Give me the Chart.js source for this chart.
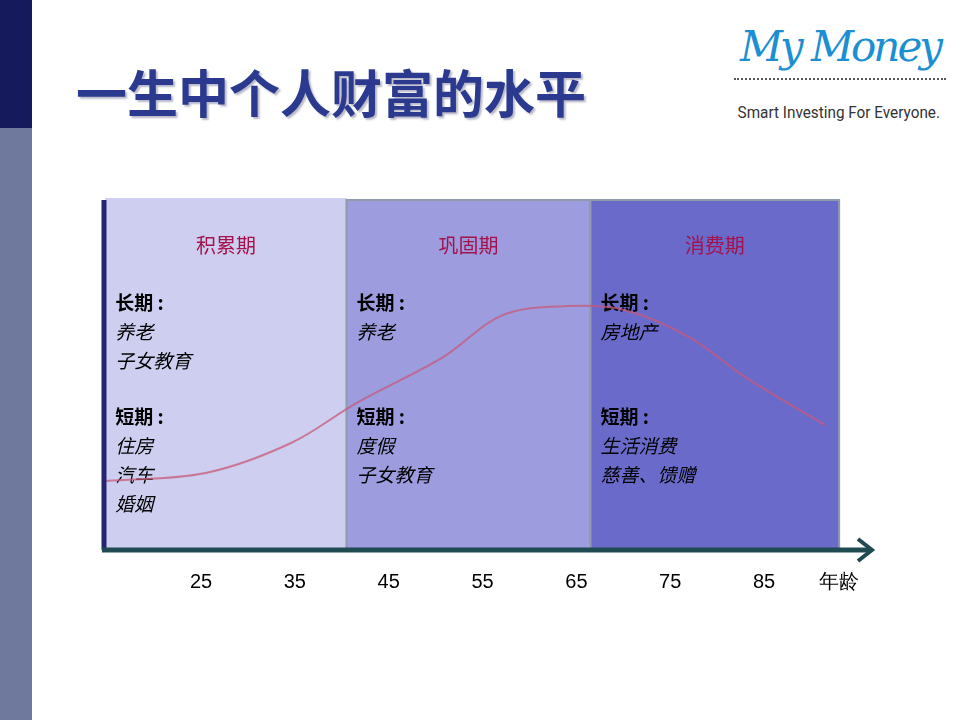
<!DOCTYPE html>
<html>
<head>
<meta charset="utf-8">
<script src="https://cdn.jsdelivr.net/npm/chart.js@4"></script>
<style>
  body { margin: 0; width: 960px; height: 720px; background: #fff; position: relative; overflow: hidden; font-family: "Noto Sans CJK SC", sans-serif; }
  .side-top { position: absolute; left: 0; top: 0; width: 32px; height: 128px; background: #141a5c; }
  .side-bot { position: absolute; left: 0; top: 128px; width: 32px; height: 592px; background: #6f799d; }
  .title { position: absolute; left: 76px; top: 54px; font-size: 51px; font-weight: bold; color: #2b3a8e; text-shadow: 2px 2px 2px #b8b8c8; white-space: nowrap; }
  .logo { position: absolute; left: 734px; top: 18px; width: 212px; }
  .logo .script { font-family: "DejaVu Serif", serif; font-style: italic; font-size: 42px; color: #1b8fd2; line-height: 58px; letter-spacing: -3px; white-space: nowrap; padding-left: 6px; }
  .logo .dots { border-top: 2px dotted #555; margin-top: 2px; }
  .logo .tag { font-family: "Liberation Sans Narrow", "Roboto", sans-serif; font-size: 17px; color: #333; margin-top: 22px; transform: scaleX(0.9); transform-origin: left; white-space: nowrap; padding-left: 4px; }
  #wrap { position: absolute; left: 0; top: 0; width: 960px; height: 720px; }
</style>
</head>
<body>
<div class="side-top"></div>
<div class="side-bot"></div>
<div class="title">一生中个人财富的水平</div>
<div class="logo">
  <div class="script">My Money</div>
  <div class="dots"></div>
  <div class="tag">Smart Investing For Everyone.</div>
</div>
<div id="wrap"><canvas id="c"></canvas></div>
<script>
// wealth curve (age, relative level)
const ages = [14.8, 25.5, 34.6, 41.6, 50.8, 57.2, 64.1, 70.1, 77.0, 83.0, 91.5];
const wealth = [19.6, 21.9, 30.4, 41.8, 54.8, 66.8, 69.3, 68.2, 60.5, 49.1, 35.5];

const tickValues = [25, 35, 45, 55, 65, 75, 85, 93];
const tickLabels = ['25', '35', '45', '55', '65', '75', '85', '年龄'];

// life phases
const phaseNames = ['积累期', '巩固期', '消费期'];
const phaseStart = [14.8, 40.5, 66.5];
const phaseEnd = [40.5, 66.5, 93.0];
const phaseColors = ['#cecff0', '#9c9cdf', '#6a6acb'];
const longTerm = [['养老', '子女教育'], ['养老'], ['房地产']];
const shortTerm = [['住房', '汽车', '婚姻'], ['度假', '子女教育'], ['生活消费', '慈善、馈赠']];

const phasePlugin = {
    id: 'phases',
    beforeDatasetsDraw(chart) {
        const ctx = chart.ctx, x = chart.scales.x, area = chart.chartArea;
        ctx.save();
        phaseNames.forEach((name, i) => {
            const l = x.getPixelForValue(phaseStart[i]);
            const r = x.getPixelForValue(phaseEnd[i]);
            const top = i === 0 ? area.top : area.top + 2;
            ctx.fillStyle = phaseColors[i];
            ctx.fillRect(l, top, r - l, area.bottom - top);
            if (i > 0) {
                ctx.strokeStyle = '#8d9bab';
                ctx.lineWidth = 2;
                ctx.strokeRect(l, top, r - l, area.bottom - top);
            }
            ctx.fillStyle = '#a3124c';
            ctx.font = '20px "Noto Sans CJK SC"';
            ctx.textAlign = 'center';
            ctx.textBaseline = 'middle';
            ctx.fillText(name, (l + r) / 2, 245);
            ctx.textAlign = 'left';
            ctx.fillStyle = '#000';
            let y = 303;
            ctx.font = 'bold 19px "Noto Sans CJK SC"';
            ctx.fillText('长期 :', l + 10, y);
            ctx.font = 'italic 19px "Noto Sans CJK SC"';
            longTerm[i].forEach(t => { y += 29; ctx.fillText(t, l + 10, y); });
            y = 417;
            ctx.font = 'bold 19px "Noto Sans CJK SC"';
            ctx.fillText('短期 :', l + 10, y);
            ctx.font = 'italic 19px "Noto Sans CJK SC"';
            shortTerm[i].forEach(t => { y += 29; ctx.fillText(t, l + 10, y); });
        });
        ctx.restore();
    },
    afterDatasetsDraw(chart) {
        const ctx = chart.ctx, area = chart.chartArea;
        ctx.save();
        // vertical axis
        ctx.strokeStyle = '#25256f';
        ctx.lineWidth = 5;
        ctx.beginPath();
        ctx.moveTo(area.left + 2, area.top + 2);
        ctx.lineTo(area.left + 2, area.bottom);
        ctx.stroke();
        // horizontal axis with arrow
        ctx.strokeStyle = '#1f4a52';
        ctx.beginPath();
        ctx.moveTo(area.left, area.bottom);
        ctx.lineTo(area.right - 2, area.bottom);
        ctx.stroke();
        ctx.lineWidth = 4;
        ctx.beginPath();
        ctx.moveTo(area.right - 14, area.bottom - 11);
        ctx.lineTo(area.right, area.bottom);
        ctx.lineTo(area.right - 14, area.bottom + 11);
        ctx.stroke();
        ctx.restore();
    }
};

new Chart(document.getElementById('c'), {
    type: 'line',
    data: {
        datasets: [{
            data: ages.map((a, i) => ({ x: a, y: wealth[i] })),
            borderColor: 'rgba(200, 90, 120, 0.75)',
            borderWidth: 2,
            tension: 0.35,
            pointRadius: 0,
            fill: false
        }]
    },
    options: {
        responsive: true,
        maintainAspectRatio: false,
        animation: false,
        layout: { padding: { left: 102, right: 88, top: 198, bottom: 114 } },
        plugins: { legend: { display: false }, tooltip: { enabled: false } },
        scales: {
            x: {
                type: 'linear',
                min: 14.45,
                max: 96.5,
                grid: { display: false },
                border: { display: false },
                afterBuildTicks: axis => { axis.ticks = tickValues.map(v => ({ value: v })); },
                ticks: {
                    autoSkip: false,
                    maxRotation: 0,
                    padding: 12,
                    color: '#000',
                    font: { family: '"Liberation Sans", Arial', size: 20 },
                    callback: v => tickLabels[tickValues.indexOf(v)]
                }
            },
            y: { display: false, min: 0, max: 100 }
        }
    },
    plugins: [phasePlugin]
});
</script>
</body>
</html>
